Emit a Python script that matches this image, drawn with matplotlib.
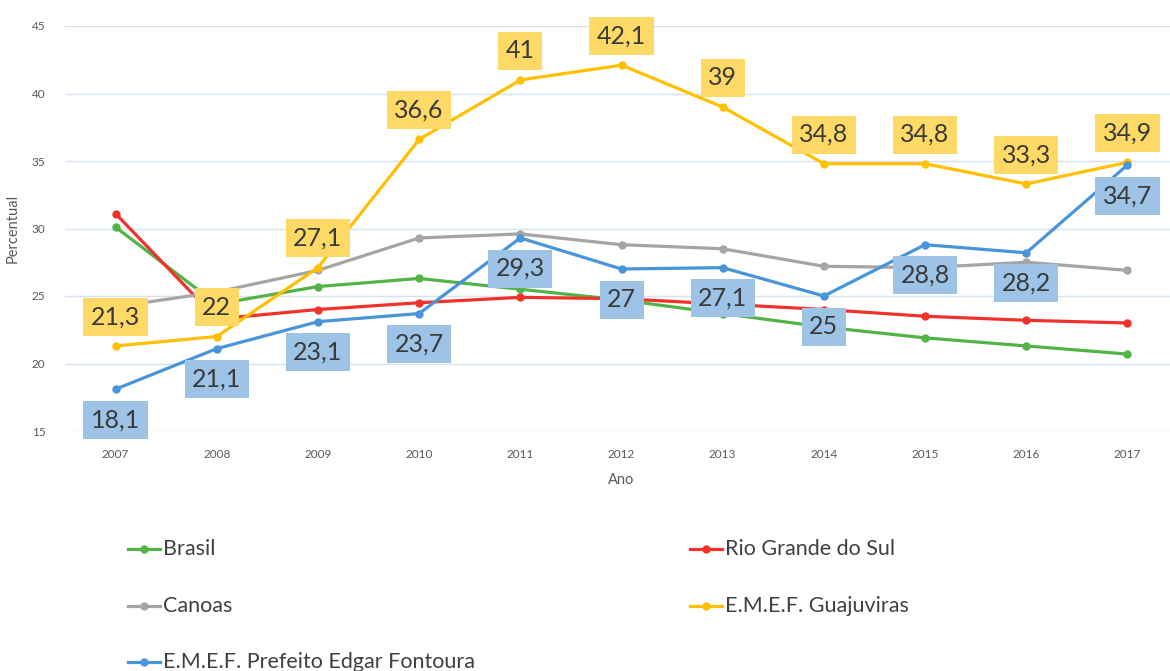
import matplotlib
matplotlib.use("Agg")
import matplotlib.pyplot as plt
from matplotlib.lines import Line2D

years = ["2007", "2008", "2009", "2010", "2011", "2012", "2013", "2014", "2015", "2016", "2017"]
brasil = [30.1, 24.4, 25.7, 26.3, 25.5, 24.7, 23.7, 22.7, 21.9, 21.3, 20.7]
rgs = [31.1, 23.3, 24.0, 24.5, 24.9, 24.8, 24.4, 24.0, 23.5, 23.2, 23.0]
canoas = [24.2, 25.3, 26.9, 29.3, 29.6, 28.8, 28.5, 27.2, 27.1, 27.5, 26.9]
guajuviras = [21.3, 22.0, 27.1, 36.6, 41.0, 42.1, 39.0, 34.8, 34.8, 33.3, 34.9]
fontoura = [18.1, 21.1, 23.1, 23.7, 29.3, 27.0, 27.1, 25.0, 28.8, 28.2, 34.7]
yticks = [15, 20, 25, 30, 35, 40, 45]

names = ["Brasil", "Rio Grande do Sul", "Canoas", "E.M.E.F. Guajuviras",
         "E.M.E.F. Prefeito Edgar Fontoura"]
colors = ["#52B447", "#F0322A", "#A5A5A5", "#FFC000", "#4A94DA"]
series = [brasil, rgs, canoas, guajuviras, fontoura]

plt.rcParams['font.family'] = ['Lato', 'DejaVu Sans']

W, H = 1170, 671
fig = plt.figure(figsize=(W / 100, H / 100), dpi=100)
ax = fig.add_axes([65 / W, (H - 431) / H, (1178 - 65) / W, (431 - 26) / H])
x = list(range(len(years)))

for s, c, n in zip(series, colors, names):
    ax.plot(x, s, color=c, lw=2.3, marker='o', ms=5, label=n, zorder=3)

ax.set_xlim(-0.5, len(years) - 0.5)
ax.set_ylim(15, 45)
ax.set_yticks(yticks)
ax.set_xticks(x)
ax.set_xticklabels(years)
ax.grid(axis='y', color='#D6E2EE', lw=1)
ax.set_axisbelow(True)
for sp in ax.spines.values():
    sp.set_visible(False)
ax.tick_params(length=0, labelsize=8.5, colors='#595959', pad=13)
ax.tick_params(axis='y', pad=14)
ax.set_xlabel("Ano", fontsize=10.5, color='#595959', labelpad=9)
ax.set_ylabel("Percentual", fontsize=10.5, color='#595959', labelpad=9)

# data labels
for xi, v in zip(x, guajuviras):
    ax.annotate(f"{v:g}".replace('.', ','), (xi, v), xytext=(0, 21),
                textcoords='offset points', ha='center', va='center',
                fontsize=18, color='#3A3A3A', zorder=5,
                bbox=dict(boxstyle='square,pad=0.3', fc='#FFD966', ec='none'))
for xi, v in zip(x, fontoura):
    ax.annotate(f"{v:g}".replace('.', ','), (xi, v), xytext=(0, -22),
                textcoords='offset points', ha='center', va='center',
                fontsize=18, color='#3A3A3A', zorder=5,
                bbox=dict(boxstyle='square,pad=0.3', fc='#9DC3E6', ec='none'))

# legend (row-wise, 2 columns)
leg_pos = [(128, 549), (690, 549), (128, 606), (690, 606), (128, 662)]
for (lx, ly), n, c in zip(leg_pos, names, colors):
    fx0, fx1 = lx / W, (lx + 32) / W
    fy = (H - ly) / H
    fig.add_artist(Line2D([fx0, fx1], [fy, fy], color=c, lw=2.3,
                          transform=fig.transFigure))
    fig.add_artist(Line2D([(fx0 + fx1) / 2], [fy], color=c, marker='o', ms=5,
                          transform=fig.transFigure))
    fig.text((lx + 35) / W, fy, n, fontsize=15.5, color='#404040', va='center', ha='left')

fig.savefig("out.png", dpi=100)
